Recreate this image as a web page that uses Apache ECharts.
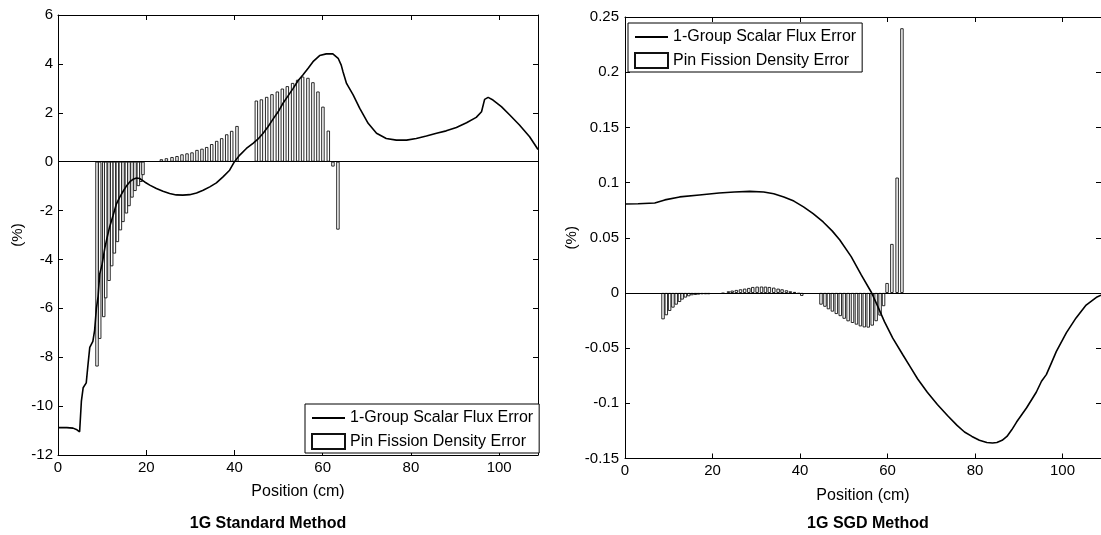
<!DOCTYPE html>
<html>
<head>
<meta charset="utf-8">
<script src="https://cdn.jsdelivr.net/npm/echarts@6/dist/echarts.min.js"></script>
<style>
  html, body { margin: 0; padding: 0; background: #fff; }
  #chart { width: 1101px; height: 535px; }
</style>
</head>
<body>
<div id="chart"></div>
<script>
// ---- 1G Standard Method: scalar flux error curve (position cm, error %)
const stdFluxX = [0, 2, 3.4, 4.3, 4.9, 5.3, 5.7, 6.4, 6.8, 7.2, 7.9, 8.3, 8.7, 9.1, 9.45, 10.0, 10.6, 11.2, 11.7, 12.5, 13.2, 14.0, 14.8, 15.5, 16.3, 17.0, 17.8, 18.5, 19.65, 20.8, 22.3, 23.8, 25.3, 26.8, 28.3, 29.85, 31.4, 32.9, 34.4, 35.9, 37.4, 38.9, 40.0, 41.2, 42.7, 44.2, 45.3, 46.5, 47.6, 48.7, 49.9, 51.0, 52.1, 53.3, 54.4, 55.5, 56.7, 57.8, 59.3, 60.8, 62.3, 63.5, 64.2, 64.6, 65.4, 66.9, 68.4, 70.3, 72.2, 74.4, 76.7, 79.0, 81.2, 83.5, 85.8, 88.0, 90.3, 92.6, 94.8, 96.0, 96.7, 97.5, 98.6, 100.5, 102.4, 104.6, 106.9, 108.8];
const stdFluxErr = [-10.88, -10.88, -10.9, -10.97, -11.05, -9.8, -9.25, -9.05, -8.3, -7.6, -7.35, -6.9, -6.0, -5.5, -4.6, -4.2, -3.55, -3.05, -2.67, -2.19, -1.75, -1.45, -1.2, -1.0, -0.82, -0.72, -0.67, -0.69, -0.83, -0.96, -1.1, -1.21, -1.30, -1.36, -1.37, -1.35, -1.28, -1.17, -1.03, -0.87, -0.62, -0.35, 0.0, 0.27, 0.54, 0.75, 0.92, 1.16, 1.43, 1.73, 2.04, 2.39, 2.68, 3.0, 3.31, 3.55, 3.82, 4.09, 4.34, 4.41, 4.41, 4.23, 3.95, 3.68, 3.2, 2.73, 2.18, 1.57, 1.16, 0.95, 0.88, 0.88, 0.95, 1.05, 1.16, 1.26, 1.4, 1.59, 1.81, 2.04, 2.55, 2.63, 2.52, 2.25, 1.91, 1.5, 1.02, 0.5];

// ---- 1G Standard Method: pin fission density error
const stdPinX = [8.84, 9.45, 10.36, 10.81, 11.56, 12.17, 12.78, 13.46, 14.14, 14.73, 15.5, 16.09, 16.77, 17.45, 18.22, 18.8, 19.26,
  23.43, 24.57, 25.84, 26.97, 28.1, 29.24, 30.37, 31.5, 32.63, 33.7, 34.84, 35.97, 37.1, 38.24, 39.37, 40.57,
  44.96, 46.1, 47.3, 48.5, 49.72, 50.85, 51.98, 53.18, 54.32, 55.45, 56.65, 57.78, 58.92, 60.05, 61.27, 62.32, 63.45];
const stdPinErr = [-8.38, -7.25, -6.36, -5.59, -4.88, -4.28, -3.76, -3.29, -2.81, -2.47, -2.12, -1.82, -1.47, -1.2, -1.0, -0.83, -0.55,
  0.10, 0.14, 0.19, 0.23, 0.30, 0.34, 0.38, 0.48, 0.53, 0.60, 0.72, 0.85, 0.96, 1.12, 1.26, 1.46,
  2.50, 2.55, 2.65, 2.76, 2.87, 2.99, 3.09, 3.22, 3.35, 3.48, 3.43, 3.25, 2.87, 2.25, 1.27, -0.2, -2.78];

// ---- 1G SGD Method: scalar flux error curve
const sgdFluxX = [0, 3, 6.8, 9.1, 12.5, 17.0, 21.5, 25.0, 28.5, 31.7, 34.0, 36.3, 38.6, 40.8, 43.0, 45.3, 47.4, 49.1, 51.7, 54.0, 56.3, 57.8, 59.3, 61.2, 63.5, 65.2, 66.9, 69.1, 71.4, 73.7, 75.9, 77.6, 79.3, 81.0, 82.7, 84.0, 85.0, 86.2, 87.3, 88.4, 89.5, 91.8, 94.0, 95.2, 96.3, 97.4, 98.6, 100.9, 103.1, 105.4, 107.9, 108.8];
const sgdFluxErr = [0.0806, 0.0808, 0.0815, 0.0843, 0.087, 0.0888, 0.0906, 0.0915, 0.0920, 0.0915, 0.0898, 0.087, 0.0832, 0.078, 0.0718, 0.0643, 0.0560, 0.048, 0.0329, 0.0163, 0.0006, -0.0124, -0.026, -0.041, -0.056, -0.067, -0.078, -0.090, -0.101, -0.111, -0.120, -0.126, -0.130, -0.1335, -0.1355, -0.136, -0.1355, -0.1335, -0.130, -0.124, -0.117, -0.104, -0.090, -0.080, -0.074, -0.064, -0.053, -0.036, -0.0226, -0.011, -0.0036, -0.002];

// ---- 1G SGD Method: pin fission density error
const sgdPinX = [8.69, 9.44, 10.2, 10.95, 11.7, 12.46, 13.06, 13.8, 14.58, 15.3, 16.1, 16.8, 17.6, 18.4, 19.1,
  22.4, 23.65, 24.5, 25.45, 26.4, 27.35, 28.3, 29.2, 30.2, 31.2, 32.1, 33.0, 34.0, 35.0, 35.9, 36.9, 37.8, 38.75, 39.7, 40.4,
  44.8, 45.7, 46.5, 47.4, 48.3, 49.2, 50.1, 51.0, 52.0, 52.9, 53.8, 54.7, 55.6, 56.5, 57.4, 58.3, 59.1,
  59.9, 61.0, 62.2, 63.3];
const sgdPinErr = [-0.0239, -0.0202, -0.0163, -0.0133, -0.0106, -0.0082, -0.006, -0.0042, -0.003, -0.0021, -0.0018, -0.0015, -0.0012, -0.0012, -0.0012,
  -0.0005, 0.0015, 0.0021, 0.0027, 0.0033, 0.0039, 0.0045, 0.0054, 0.0057, 0.0058, 0.0057, 0.0054, 0.0048, 0.0039, 0.0033, 0.0024, 0.0015, 0.0009, -0.0007, -0.0027,
  -0.0106, -0.0125, -0.0148, -0.0169, -0.0191, -0.021, -0.0234, -0.0257, -0.0272, -0.0287, -0.0303, -0.0312, -0.0314, -0.0296, -0.0256, -0.0205, -0.012,
  0.009, 0.0444, 0.1045, 0.2398];

// ---- axis settings
const X_MAX = 108.8;
const X_INTERVAL = 20;
const stdY = { min: -12, max: 6, interval: 2 };
const sgdY = { min: -0.15, max: 0.25, interval: 0.05 };
const panelTitles = ['1G Standard Method', '1G SGD Method'];
const FLUX_NAME = '1-Group Scalar Flux Error';
const PIN_NAME = 'Pin Fission Density Error';

const FONT = '"Liberation Sans", Arial, Helvetica, sans-serif';
const zip = (xs, ys) => xs.map((x, i) => [x, ys[i]]);

const axisLineStyle = { show: true, onZero: false, lineStyle: { color: '#000', width: 1 } };
const tickStyle = { show: true, inside: true, length: 5, lineStyle: { color: '#000', width: 1 } };
const tickText = { color: '#000', fontSize: 15, fontFamily: FONT };
const nameText = { color: '#000', fontSize: 16, fontFamily: FONT };

function xAxes(g) {
  return [
    {
      type: 'value', gridIndex: g, position: 'bottom', min: 0, max: X_MAX, interval: X_INTERVAL,
      axisLine: axisLineStyle, axisTick: tickStyle,
      axisLabel: Object.assign({ margin: 5, showMaxLabel: false }, tickText),
      splitLine: { show: false },
      name: 'Position (cm)', nameLocation: 'middle', nameGap: 29, nameTextStyle: nameText
    },
    {
      type: 'value', gridIndex: g, position: 'top', min: 0, max: X_MAX, interval: X_INTERVAL,
      axisLine: axisLineStyle, axisTick: tickStyle, axisLabel: { show: false }, splitLine: { show: false }
    }
  ];
}

function yAxes(g, r, margin, nameGap) {
  return [
    {
      type: 'value', gridIndex: g, position: 'left', min: r.min, max: r.max, interval: r.interval,
      axisLine: axisLineStyle, axisTick: tickStyle,
      axisLabel: Object.assign({ margin: margin }, tickText),
      splitLine: { show: false },
      name: '(%)', nameLocation: 'middle', nameGap: nameGap, nameRotate: 90, nameTextStyle: tickText
    },
    {
      type: 'value', gridIndex: g, position: 'right', min: r.min, max: r.max, interval: r.interval,
      axisLine: axisLineStyle, axisTick: tickStyle, axisLabel: { show: false }, splitLine: { show: false }
    }
  ];
}

function lineSeries(axisBase, xs, ys) {
  return {
    type: 'line', name: FLUX_NAME, xAxisIndex: axisBase, yAxisIndex: axisBase,
    data: zip(xs, ys), symbol: 'none', smooth: false,
    lineStyle: { color: '#000', width: 1.6 }, itemStyle: { color: '#000' }, z: 5
  };
}

function barSeries(axisBase, xs, ys) {
  return {
    type: 'bar', name: PIN_NAME, xAxisIndex: axisBase, yAxisIndex: axisBase,
    data: zip(xs, ys), barWidth: 3.4,
    itemStyle: { color: '#fff', borderColor: '#111', borderWidth: 0.9 }, z: 2,
    markLine: {
      silent: true, symbol: 'none', animation: false, label: { show: false },
      lineStyle: { color: '#000', width: 1, type: 'solid' },
      data: [{ yAxis: 0 }]
    }
  };
}

function legendBox(pos) {
  return Object.assign({
    orient: 'vertical',
    data: [
      { name: FLUX_NAME, itemStyle: { opacity: 0 } },
      { name: PIN_NAME, icon: 'rect' }
    ],
    itemWidth: 33, itemHeight: 15, itemGap: 7,
    padding: [6, 6, 3, 6],
    borderColor: '#000', borderWidth: 1, backgroundColor: '#fff',
    textStyle: nameText, selectedMode: false
  }, pos);
}

const chart = echarts.init(document.getElementById('chart'), null, { renderer: 'canvas' });
chart.setOption({
  backgroundColor: '#fff',
  animation: false,
  grid: [
    { left: 58, top: 15, width: 480, height: 440 },
    { left: 625, top: 17, width: 480, height: 441.5 }
  ],
  xAxis: [].concat(xAxes(0), xAxes(1)),
  yAxis: [].concat(yAxes(0, stdY, 5, 33), yAxes(1, sgdY, 6, 46)),
  legend: [
    legendBox({ left: 305, top: 404 }),
    legendBox({ left: 628, top: 23 })
  ],
  series: [
    barSeries(0, stdPinX, stdPinErr),
    lineSeries(0, stdFluxX, stdFluxErr),
    barSeries(2, sgdPinX, sgdPinErr),
    lineSeries(2, sgdFluxX, sgdFluxErr)
  ],
  graphic: [
    { type: 'text', x: 268, y: 524, style: { text: panelTitles[0], font: 'bold 16px ' + FONT, fill: '#000', align: 'center', verticalAlign: 'middle' } },
    { type: 'text', x: 868, y: 524, style: { text: panelTitles[1], font: 'bold 16px ' + FONT, fill: '#000', align: 'center', verticalAlign: 'middle' } }
  ]
});
</script>
</body>
</html>
